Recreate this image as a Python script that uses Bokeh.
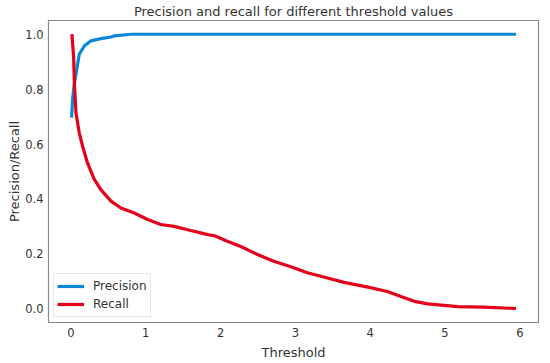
from bokeh.plotting import figure
from bokeh.models import Range1d, FixedTicker, Legend, LegendItem, CustomJSTickFormatter
from bokeh.embed import file_html
from bokeh.resources import INLINE

# ---- data ----
prec_threshold = [0.009, 0.022, 0.045, 0.067, 0.111, 0.178, 0.267, 0.40, 0.535, 0.58, 0.80,
                  2.0, 4.0, 5.95]
precision = [0.696, 0.763, 0.82, 0.854, 0.927, 0.957, 0.976, 0.984, 0.99, 0.994, 1.0,
             1.0, 1.0, 1.0]

rec_threshold = [0.013, 0.036, 0.045, 0.067, 0.111, 0.156, 0.22, 0.312, 0.40, 0.535, 0.668,
                 0.846, 1.025, 1.2, 1.38, 1.6, 1.83, 1.92, 2.09, 2.27, 2.5, 2.71, 2.94,
                 3.16, 3.43, 3.65, 3.97, 4.23, 4.41, 4.59, 4.77, 5.17, 5.52, 5.95]
recall = [1.0, 0.915, 0.83, 0.714, 0.641, 0.592, 0.532, 0.471, 0.434, 0.392, 0.367,
          0.349, 0.325, 0.307, 0.30, 0.285, 0.27, 0.266, 0.246, 0.227, 0.197, 0.173, 0.153,
          0.131, 0.112, 0.096, 0.079, 0.063, 0.045, 0.027, 0.018, 0.008, 0.006, 0.001]

x_ticks = [0, 1, 2, 3, 4, 5, 6]
y_ticks = [0.0, 0.2, 0.4, 0.6, 0.8, 1.0]

FONT = "DejaVu Sans"
TXT = "#333333"

p = figure(width=550, height=363, output_backend="svg", toolbar_location=None,
           x_range=Range1d(-0.3, 6.25), y_range=Range1d(-0.05, 1.05),
           title="Precision and recall for different threshold values",
           min_border_left=48, min_border_right=12, min_border_top=0, min_border_bottom=41)

p.title.align = "center"
p.title.text_font = FONT
p.title.text_font_size = "13px"
p.title.text_font_style = "normal"
p.title.text_color = TXT
p.title.standoff = 3

p.outline_line_color = "#8a8a8a"
p.outline_line_width = 1.2
p.xgrid.visible = False
p.ygrid.visible = False

for ax in (p.xaxis, p.yaxis):
    ax.axis_line_color = None
    ax.major_tick_line_color = None
    ax.minor_tick_line_color = None
    ax.major_tick_out = 0
    ax.major_tick_in = 0
    ax.major_label_text_font = FONT
    ax.major_label_text_font_size = "11.5px"
    ax.major_label_text_color = TXT
    ax.axis_label_text_font = FONT
    ax.axis_label_text_font_size = "13px"
    ax.axis_label_text_font_style = "normal"
    ax.axis_label_text_color = TXT

p.xaxis.ticker = FixedTicker(ticks=x_ticks)
p.yaxis.ticker = FixedTicker(ticks=y_ticks)
p.xaxis.major_label_standoff = 5
p.yaxis.major_label_standoff = 5
p.xaxis.axis_label_standoff = 5
p.yaxis.axis_label_standoff = 0
p.xaxis.axis_label = "Threshold"
p.yaxis.axis_label = "Precision/Recall"
p.yaxis.formatter = CustomJSTickFormatter(code="return tick.toFixed(1);")

r1 = p.line(prec_threshold, precision, line_color="#0a88d8", line_width=3.2)
r2 = p.line(rec_threshold, recall, line_color="#e2001a", line_width=3.2)

legend = Legend(items=[LegendItem(label="Precision", renderers=[r1]),
                       LegendItem(label="Recall", renderers=[r2])],
                location="bottom_left")
legend.label_text_font = FONT
legend.label_text_font_size = "12px"
legend.label_text_color = TXT
legend.glyph_width = 27
legend.glyph_height = 18
legend.label_height = 18
legend.spacing = 0
legend.padding = 3
legend.margin = 5
legend.label_standoff = 9
legend.border_line_color = "#d0d0d0"
legend.border_line_width = 1
legend.background_fill_alpha = 1.0
p.add_layout(legend)

open("out.html", "w").write(file_html(p, INLINE))
